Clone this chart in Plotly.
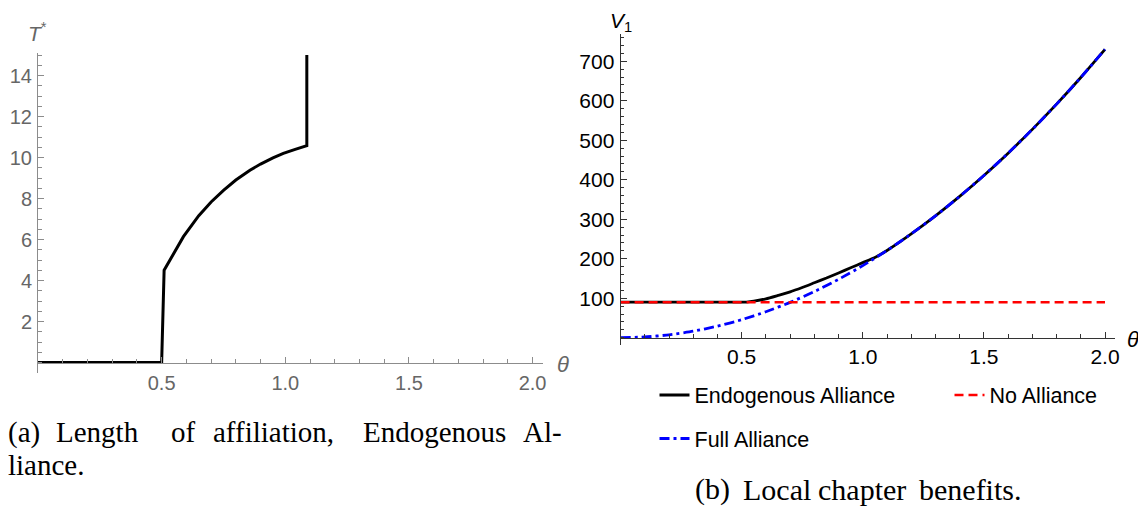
import plotly.graph_objects as go

# ---------------- data ----------------
# (a) Length of affiliation, Endogenous Alliance
theta_a = [0, 0.5, 0.51, 0.55, 0.588, 0.65, 0.70, 0.75, 0.80, 0.857, 0.90, 0.95, 0.992, 1.04, 1.087, 1.087]
T_star = [0, 0, 4.5, 5.38, 6.14, 7.16, 7.83, 8.40, 8.90, 9.38, 9.68, 9.98, 10.2, 10.4, 10.58, 15.0]

# (b) Local chapter benefits
theta_full = [0, 0.1, 0.2, 0.3, 0.4, 0.5, 0.6, 0.7, 0.8, 0.9, 1.0, 1.1, 1.2, 1.3, 1.4, 1.5, 1.6, 1.7, 1.8, 1.9, 2.0]
V_full = [0, 1.8, 7.3, 16.4, 29.2, 45.6, 65.7, 89.4, 116.8, 147.8, 182.5, 220.8, 262.8, 308.4, 357.7, 410.6, 467.2, 527.4, 591.3, 658.8, 730]

theta_endo = [0, 0.5, 0.52, 0.55, 0.6, 0.65, 0.7, 0.75, 0.8, 0.85, 0.9, 0.95, 1.0, 1.05, 1.1,
              1.2, 1.3, 1.4, 1.5, 1.6, 1.7, 1.8, 1.9, 2.0]
V_endo = [90, 90, 90.3, 92.5, 98.5, 107, 116, 127, 139, 151, 164, 177, 190, 203, 220.8,
          262.8, 308.4, 357.7, 410.6, 467.2, 527.4, 591.3, 658.8, 730]

theta_none = [0, 2.0]
V_none = [90, 90]

a_xticks = [0.5, 1.0, 1.5, 2.0]
a_xticklabels = ["0.5", "1.0", "1.5", "2.0"]
a_yticks = [2, 4, 6, 8, 10, 12, 14]
b_yticks = [100, 200, 300, 400, 500, 600, 700]

# ---------------- layout helpers ----------------
W, H = 1146, 507
OFF = 8  # page body margin offset
def fx(p):
    return (p - OFF) / W
def fy(p):
    return 1 - (p - OFF) / H

SANS = "Liberation Sans, Arial, sans-serif"
SERIF = "Liberation Serif, Times New Roman, serif"
GRAY_LINE = "#8c8c8c"
GRAY_TXT = "#666666"
DARK_LINE = "#333333"

fig = go.Figure()

# left panel
fig.add_trace(go.Scatter(x=theta_a, y=T_star, mode="lines", xaxis="x", yaxis="y",
                         line=dict(color="black", width=3), showlegend=False))

# right panel
fig.add_trace(go.Scatter(x=theta_endo, y=V_endo, mode="lines", xaxis="x2", yaxis="y2",
                         name="Endogenous Alliance", legend="legend",
                         line=dict(color="black", width=2.8, shape="spline", smoothing=0.6)))
fig.add_trace(go.Scatter(x=theta_full, y=V_full, mode="lines", xaxis="x2", yaxis="y2",
                         name="Full Alliance", legend="legend2",
                         line=dict(color="#0000ff", width=2.8, dash="10px,4px,3px,4px",
                                   shape="spline", smoothing=0.6)))
fig.add_trace(go.Scatter(x=theta_none, y=V_none, mode="lines", xaxis="x2", yaxis="y2",
                         name="No Alliance", legend="legend",
                         line=dict(color="#ff0000", width=2.5, dash="9px,5px")))

# axis geometry (page pixels)
a_x0, a_x1, a_scale = 38, 543, 247.3
a_y0px, a_ytop, a_ybot, a_yscale = 362.5, 53, 373, 20.5
b_x0, b_x1, b_scale = 620.6, 1115, 242.2
b_y0px, b_ytop, b_ybot, b_yscale = 337.7, 34, 345, 0.395

tickfont_a = dict(family=SANS, size=20, color=GRAY_TXT)
tickfont_b = dict(family=SANS, size=21, color="black")

fig.update_layout(
    width=W, height=H, autosize=False,
    margin=dict(l=0, r=0, t=0, b=0, pad=0, autoexpand=False),
    paper_bgcolor="white", plot_bgcolor="white",
    xaxis=dict(domain=[fx(a_x0), fx(a_x1)], range=[0, (a_x1 - a_x0) / a_scale],
               anchor="free", position=fy(a_y0px), automargin=False,
               showline=True, linecolor=GRAY_LINE, linewidth=1, showgrid=False, zeroline=False,
               tickmode="array", tickvals=a_xticks, ticktext=a_xticklabels,
               ticks="inside", ticklen=6, tickcolor=GRAY_LINE, tickfont=tickfont_a,
               ticklabelstandoff=2,
               minor=dict(tick0=0, dtick=0.1, ticks="inside", ticklen=3.5, tickcolor=GRAY_LINE, showgrid=False)),
    yaxis=dict(domain=[fy(a_ybot), fy(a_ytop)],
               range=[-(a_ybot - a_y0px) / a_yscale, (a_y0px - a_ytop) / a_yscale],
               anchor="x", automargin=False,
               showline=True, linecolor=GRAY_LINE, linewidth=1, showgrid=False, zeroline=False,
               tickmode="array", tickvals=a_yticks,
               ticks="inside", ticklen=6, tickcolor=GRAY_LINE, tickfont=tickfont_a,
               ticklabelstandoff=1,
               minor=dict(tick0=0, dtick=0.5, ticks="inside", ticklen=3.5, tickcolor=GRAY_LINE, showgrid=False)),
    xaxis2=dict(domain=[fx(b_x0), fx(b_x1)], range=[0, (b_x1 - b_x0) / b_scale],
                anchor="free", position=fy(b_y0px), automargin=False,
                showline=True, linecolor=DARK_LINE, linewidth=1, showgrid=False, zeroline=False,
                tickmode="array", tickvals=a_xticks, ticktext=a_xticklabels,
                ticks="inside", ticklen=6, tickcolor=DARK_LINE, tickfont=tickfont_b,
                ticklabelstandoff=0,
                minor=dict(tick0=0, dtick=0.1, ticks="inside", ticklen=3.5, tickcolor=DARK_LINE, showgrid=False)),
    yaxis2=dict(domain=[fy(b_ybot), fy(b_ytop)],
                range=[-(b_ybot - b_y0px) / b_yscale, (b_y0px - b_ytop) / b_yscale],
                anchor="x2", automargin=False,
                showline=True, linecolor=DARK_LINE, linewidth=1, showgrid=False, zeroline=False,
                tickmode="array", tickvals=b_yticks,
                ticks="inside", ticklen=6, tickcolor=DARK_LINE, tickfont=tickfont_b,
                ticklabelstandoff=1,
                minor=dict(tick0=0, dtick=20, ticks="inside", ticklen=3.5, tickcolor=DARK_LINE, showgrid=False)),
    legend=dict(orientation="h", x=fx(654.5), y=fy(395), xanchor="left", yanchor="middle",
                font=dict(family=SANS, size=21.5, color="black"), bgcolor="rgba(0,0,0,0)",
                entrywidth=250, itemwidth=30, traceorder="normal"),
    legend2=dict(orientation="h", x=fx(654.5), y=fy(438.5), xanchor="left", yanchor="middle",
                 font=dict(family=SANS, size=21.5, color="black"), bgcolor="rgba(0,0,0,0)",
                 itemwidth=30),
)

ann = []
def add_text(text, xpx, ypx, size, color, family, xanchor="center", yanchor="middle", yfrac=None):
    ann.append(dict(text=text, x=fx(xpx), y=(fy(ypx) if yfrac is None else yfrac),
                    xref="paper", yref="paper",
                    xanchor=xanchor, yanchor=yanchor, showarrow=False, borderpad=0,
                    font=dict(family=family, size=size, color=color)))

# axis titles
add_text("<i>T</i><sup>*</sup>", 37.5, 31.5, 21, GRAY_TXT, SANS)
add_text("<i>θ</i>", 562.5, 364.5, 22, GRAY_TXT, SANS)
add_text("<i>V</i><sub>1</sub>", 621, 0, 21, "black", SANS, yanchor="top", yfrac=1.0)
add_text("<i>θ</i>", 1133, 339.5, 22, "black", SANS)

# captions (justified words placed individually)
for word, xp in [("(a)", 7), ("Length", 55), ("of", 170), ("affiliation,", 212),
                 ("Endogenous", 362), ("Al-", 522)]:
    add_text(word, xp, 432, 29, "black", SERIF, xanchor="left")
add_text("liance.", 7, 465, 29, "black", SERIF, xanchor="left")
for word, xp in [("(b)", 694), ("Local", 742), ("chapter", 817), ("benefits.", 918)]:
    add_text(word, xp, 489, 30, "black", SERIF, xanchor="left")

fig.update_layout(annotations=ann)

fig.write_html("out.html")
